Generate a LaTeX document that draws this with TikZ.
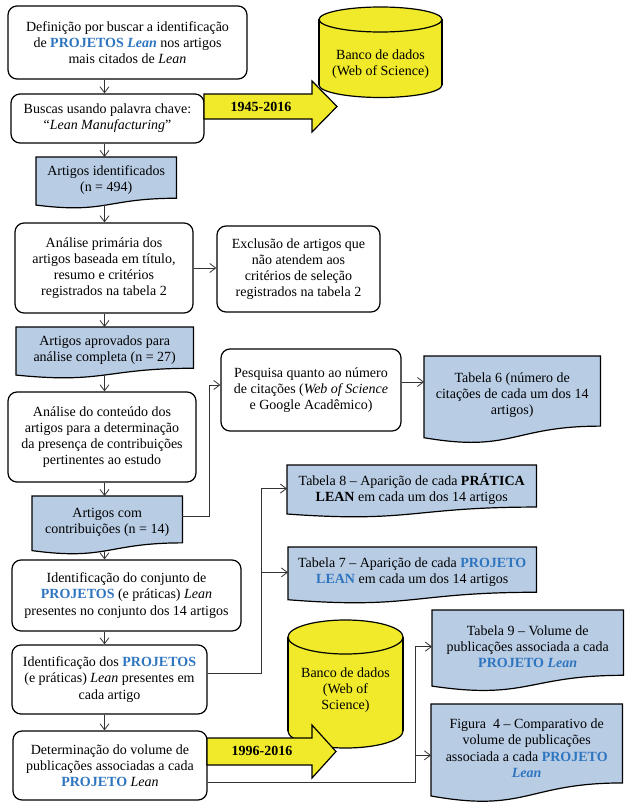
\documentclass[tikz,border=0pt]{standalone}
\usepackage{fontspec}
\setmainfont{Liberation Serif}
\usetikzlibrary{arrows.meta,calc,backgrounds}
\definecolor{docblue}{HTML}{B8CCE4}
\definecolor{pblue}{HTML}{2E75C0}
\definecolor{dbyellow}{HTML}{F0EA2A}
\definecolor{lnk}{HTML}{333333}
\newcommand\PJ[1]{\textcolor{pblue}{\textbf{#1}}}
\newcommand\docshape[1]{%
  \path[docline] let \p1=(#1.north west), \p2=(#1.south east), \n1={\y1-\y2} in
    (\x1,\y1) -- (\x2,\y1) -- (\x2,{\y1-0.891*\n1})
    .. controls ({(\x1+\x2)/2},{\y1-0.891*\n1}) and ({(\x1+\x2)/2},{\y1-1.231*\n1}) ..
    (\x1,{\y1-1.038*\n1}) -- cycle;}
\begin{document}
\begin{tikzpicture}[x=1pt,y=-1pt,
  every node/.style={font=\fontsize{14}{16.2}\selectfont, align=center, inner sep=0pt},
  rbox/.style={draw=black, line width=1.2pt, rounded corners=9pt, fill=white},
  docbox/.style={draw=none, anchor=north west},
  docline/.style={draw=black, line width=1.2pt, fill=docblue},
  link/.style={draw=lnk, line width=0.8pt, -{Straight Barb[length=6pt,width=9pt]}},
  yel/.style={fill=dbyellow, draw=black, line width=1.2pt},
  cylline/.style={draw=black, line width=1.2pt}
]
\useasboundingbox (0,0) rectangle (638,808);

% ---------- left column ----------
\node[rbox, minimum width=239, minimum height=73] (b1) at (127.5,42.5)
  {Definição por buscar a identificação\\de \PJ{PROJETOS \textit{Lean}} nos artigos\\mais citados de \textit{Lean}};
\node[rbox, minimum width=193, minimum height=49] (b2) at (107.5,118.5)
  {Buscas usando palavra chave:\\“\textit{Lean Manufacturing}”};
\node[docbox, minimum width=140, minimum height=45.9] (b3) at (36,157)
  {Artigos identificados\\(n = 494)};
\node[rbox, minimum width=178, minimum height=90] (b4) at (104,268)
  {Análise primária dos\\artigos baseada em título,\\resumo e critérios\\registrados na tabela 2};
\node[rbox, minimum width=163, minimum height=86] (b5) at (298.5,269)
  {Exclusão de artigos que\\não atendem aos\\critérios de seleção\\registrados na tabela 2};
\node[docbox, minimum width=177, minimum height=45.9] (b6) at (16,327)
  {Artigos aprovados para\\análise completa (n = 27)};
\node[rbox, minimum width=188, minimum height=90] (b7) at (102,437)
  {Análise do conteúdo dos\\artigos para a determinação\\da presença de contribuições\\pertinentes ao estudo};
\node[docbox, minimum width=150, minimum height=52.2] (b8) at (32,496)
  {Artigos com\\contribuições (n = 14)};
\node[rbox, minimum width=229, minimum height=71] (b9) at (126.5,595.5)
  {Identificação do conjunto de\\\PJ{PROJETOS} (e práticas) \textit{Lean}\\presentes no conjunto dos 14 artigos};
\node[rbox, minimum width=195, minimum height=69] (b10) at (109.5,679.5)
  {Identificação dos \PJ{PROJETOS}\\(e práticas) \textit{Lean} presentes em\\cada artigo};
\node[rbox, minimum width=194, minimum height=69] (b11) at (110,765.5)
  {Determinação do volume de\\publicações associadas a cada\\\PJ{PROJETO} \textit{Lean}};

% ---------- right side ----------
\node[rbox, minimum width=180, minimum height=82] (pesq) at (311,390)
  {Pesquisa quanto ao número\\de citações (\textit{Web of Science}\\e Google Acadêmico)};
\node[docbox, minimum width=176, minimum height=78.3] (tab6) at (424,356)
  {Tabela 6 (número de\\citações de cada um dos 14\\artigos)};
\node[docbox, minimum width=249, minimum height=46.8] (tab8) at (287,465)
  {Tabela 8 – Aparição de cada \textbf{PRÁTICA}\\\textbf{LEAN} em cada um dos 14 artigos};
\node[docbox, minimum width=248, minimum height=50.4] (tab7) at (288,547)
  {Tabela 7 – Aparição de cada \PJ{PROJETO}\\\PJ{LEAN} em cada um dos 14 artigos};
\node[docbox, minimum width=191, minimum height=72.9] (tab9) at (432,610)
  {Tabela 9 – Volume de\\publicações associada a cada\\\PJ{PROJETO \textit{Lean}}};
\node[docbox, minimum width=191, minimum height=88.2] (fig4) at (431,704)
  {Figura\ \ 4 – Comparativo de\\volume de publicações\\associada a cada \PJ{PROJETO}\\\PJ{\textit{Lean}}};

% ---------- cylinder 1 ----------
\filldraw[fill=dbyellow, cylline] (380.5,85) ellipse [x radius=61.5, y radius=12.5];
\fill[dbyellow] (319,19.5) rectangle (442,85);
\draw[cylline] (319,19.5) -- (319,85) (442,19.5) -- (442,85);
\filldraw[fill=dbyellow, cylline] (380.5,19.5) ellipse [x radius=61.5, y radius=12.5];
\node (db1) at (380.5,64) {Banco de dados\\(Web of Science)};

% ---------- cylinder 2 ----------
\filldraw[fill=dbyellow, cylline] (345.5,731) ellipse [x radius=57.5, y radius=17];
\fill[dbyellow] (288,637) rectangle (403,731);
\draw[cylline] (288,637) -- (288,731) (403,637) -- (403,731);
\filldraw[fill=dbyellow, cylline] (345.5,637) ellipse [x radius=57.5, y radius=17];
\node (db2) at (345.5,690) {Banco de dados\\(Web of\\Science)};

% ---------- big arrows ----------
\filldraw[yel] (204,94) -- (312,94) -- (312,81) -- (337,106.5) -- (312,132) -- (312,119) -- (204,119) -- cycle;
\node (y1) at (261,107) {\textbf{1945-2016}};
\filldraw[yel] (207,738) -- (312,738) -- (312,725) -- (336,751.5) -- (312,778) -- (312,765) -- (207,765) -- cycle;
\node (y2) at (262,751) {\textbf{1996-2016}};

% ---------- connectors ----------
\coordinate (col) at (104.5,0);
\coordinate (r1) at (209,385);
\coordinate (r2) at (261,0);
\coordinate (r3) at (415,0);
\draw[link] (b1.south -| col) -- (b2.north -| col);
\draw[link] (b2.south -| col) -- (b3.north -| col);
\draw[link] ($(b3.north -| col)!1.037!(b3.south -| col)$) -- (b4.north -| col);
\draw[link] (b4.east) -- (b4.east -| b5.west);
\draw[link] (b4.south -| col) -- (b6.north -| col);
\draw[link] ($(b6.north -| col)!1.037!(b6.south -| col)$) -- (b7.north -| col);
\draw[link] (b7.south -| col) -- (b8.north -| col);
\draw[link] ($(b8.north -| col)!1.037!(b8.south -| col)$) -- (b9.north -| col);
\draw[link] (b9.south -| col) -- (b10.north -| col);
\draw[link] (b10.south -| col) -- (b11.north -| col);

\coordinate (pin) at (pesq.west |- r1);
\draw[link] ($(b8.east)+(0,-6)$) -| (r1) -- (pin);
\coordinate (p6) at ($(pesq.east)+(0,-8)$);
\draw[link] (p6) -- (p6 -| tab6.west);

\draw[link] ($(b10.east)+(0,-6.5)$) -| (r2 |- tab8.west) -- (tab8.west);
\draw[link] (r2 |- tab7.west) -- (tab7.west);

\coordinate (f4in) at ($(fig4.west)+(0,7)$);
\draw[link] ($(b11.east)+(0,16.5)$) -| (r3 |- tab9.west) -- (tab9.west);
\draw[link] (r3 |- f4in) -- (f4in);

% ---------- document shapes (behind text) ----------
\begin{scope}[on background layer]
  \fill[white] (0,0) rectangle (638,808);
  \docshape{b3}
  \docshape{b6}
  \docshape{b8}
  \docshape{tab6}
  \docshape{tab8}
  \docshape{tab7}
  \docshape{tab9}
  \docshape{fig4}
\end{scope}
\end{tikzpicture}
\end{document}
